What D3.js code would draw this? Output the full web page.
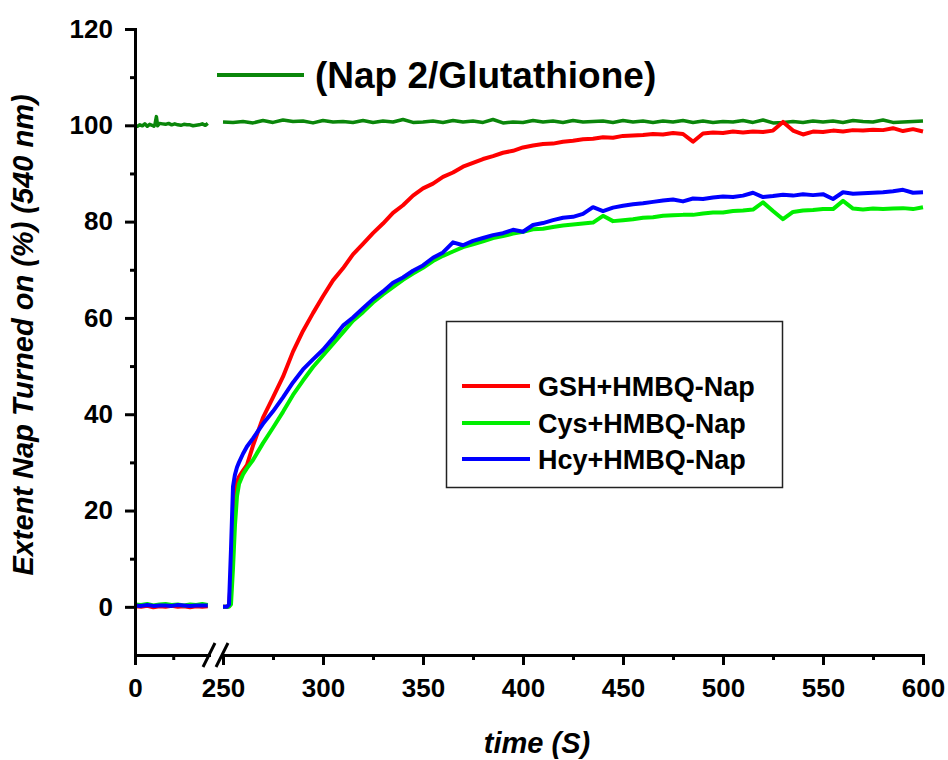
<!DOCTYPE html>
<html>
<head>
<meta charset="utf-8">
<script src="https://cdn.jsdelivr.net/npm/d3@7"></script>
<style>
  html, body { margin: 0; padding: 0; background: #fff; }
  svg { display: block; font-family: "Liberation Sans", Arial, Helvetica, sans-serif; }
</style>
</head>
<body>
<svg id="chart" width="948" height="760"></svg>
<script>
// ---- data ----------------------------------------------------------------
// baseline segment (before the axis break), shared by the three thiol traces
const baseTime = [0, 20, 40, 60, 80, 100, 120, 140, 160, 180, 200, 220, 238];
const baseGSH  = [0.1, 0.0, 0.2, -0.1, 0.1, 0.0, 0.2, 0.0, 0.1, -0.1, 0.1, 0.0, 0.1];
const baseCys  = [0.5, 0.4, 0.6, 0.3, 0.5, 0.6, 0.4, 0.5, 0.3, 0.5, 0.4, 0.6, 0.4];
const baseHcy  = [0.3, 0.2, 0.4, 0.2, 0.3, 0.3, 0.2, 0.4, 0.3, 0.2, 0.3, 0.3, 0.3];

// kinetic segment (after the axis break)
const runTime = [250, 252, 253, 254, 255, 256, 257, 258, 260, 262, 265,
  270, 275, 280, 285, 290, 295, 300, 305, 310, 315, 320, 325, 330, 335, 340, 345, 350,
  355, 360, 365, 370, 375, 380, 385, 390, 395, 400, 405, 410, 415, 420, 425, 430, 435,
  440, 445, 450, 455, 460, 465, 470, 475, 480, 485, 490, 495, 500, 505, 510, 515, 520,
  525, 530, 535, 540, 545, 550, 555, 560, 565, 570, 575, 580, 585, 590, 595, 600];

const runGSH = [0, 0, 0.2, 6, 18, 24, 26, 27, 28.3, 29.5, 33.5,
  39.3, 43.5, 47.8, 53.0, 57.3, 61.0, 64.5, 67.8, 70.3, 73.2, 75.4, 77.6, 79.6, 81.8, 83.4, 85.4, 86.9,
  87.9, 89.3, 90.2, 91.4, 92.2, 93.0, 93.6, 94.3, 94.7, 95.4, 95.8, 96.1, 96.2, 96.6, 96.8, 97.1, 97.2,
  97.5, 97.4, 97.8, 97.9, 98.0, 98.2, 98.1, 98.4, 98.2, 96.6, 98.3, 98.5, 98.4, 98.7, 98.5, 98.7, 98.6,
  98.9, 100.7, 98.9, 98.1, 98.7, 98.6, 98.9, 98.7, 99.0, 98.9, 99.1, 99.0, 99.4, 98.8, 99.2, 98.7];

const runCys = [0, 0, 0, 0.5, 8, 17, 23, 25.5, 27.5, 28.8, 30.5,
  34.0, 37.2, 40.5, 44.0, 47.0, 49.8, 52.2, 54.6, 57.0, 59.4, 61.2, 63.2, 64.9, 66.4, 67.9, 69.2, 70.4,
  71.8, 72.9, 73.8, 74.7, 75.3, 75.9, 76.6, 77.0, 77.5, 77.9, 78.4, 78.5, 78.9, 79.2, 79.4, 79.6, 79.8,
  81.2, 80.1, 80.3, 80.5, 80.8, 80.9, 81.2, 81.3, 81.4, 81.4, 81.7, 81.9, 81.9, 82.2, 82.3, 82.5, 84.0,
  82.2, 80.5, 82.0, 82.3, 82.4, 82.6, 82.6, 84.3, 82.7, 82.5, 82.7, 82.6, 82.7, 82.8, 82.6, 83.0];

const runHcy = [0, 0, 0.5, 12, 25, 27.5, 29, 30, 31.8, 33.3, 35.0,
  38.0, 40.6, 43.5, 46.6, 49.3, 51.4, 53.4, 55.8, 58.4, 60.1, 62.0, 63.9, 65.5, 67.3, 68.4, 69.8, 70.9,
  72.5, 73.6, 75.7, 75.1, 76.0, 76.6, 77.2, 77.6, 78.3, 77.9, 79.3, 79.7, 80.3, 80.8, 81.0, 81.6, 83.0,
  82.2, 82.9, 83.3, 83.6, 83.8, 84.1, 84.4, 84.6, 84.2, 84.8, 84.7, 85.0, 85.2, 85.1, 85.4, 86.0, 85.1,
  85.3, 85.6, 85.4, 85.7, 85.5, 85.7, 84.7, 86.1, 85.8, 85.9, 86.0, 86.1, 86.3, 86.6, 86.0, 86.1];

// Nap 2 / glutathione reference trace
const napBaseTime = [0, 8, 16, 24, 32, 40, 48, 56, 62, 66, 70, 74, 80, 90, 100, 110, 120,
  130, 140, 150, 160, 170, 180, 190, 200, 210, 220, 230, 238];
const napBase = [99.7, 99.8, 100.1, 99.9, 100.3, 99.8, 100.2, 100.0, 99.8, 100.4, 101.8, 99.9, 100.4,
  100.3, 100.2, 100.4, 100.1, 100.3, 100.1, 100.0, 100.2, 100.1, 100.1, 99.9, 100.0, 100.1, 100.3, 100.0, 100.4];

const napRunTime = [250, 255, 260, 265, 270, 275, 280, 285, 290, 295, 300, 305, 310, 315, 320,
  325, 330, 335, 340, 345, 350, 355, 360, 365, 370, 375, 380, 385, 390, 395, 400, 405, 410,
  415, 420, 425, 430, 435, 440, 445, 450, 455, 460, 465, 470, 475, 480, 485, 490, 495, 500,
  505, 510, 515, 520, 525, 530, 535, 540, 545, 550, 555, 560, 565, 570, 575, 580, 585, 590, 595, 600];
const napRun = [100.7, 100.6, 100.8, 100.5, 101.0, 100.6, 101.1, 100.8, 100.9, 100.5, 101.0, 100.7,
  100.8, 100.6, 101.0, 100.6, 100.9, 100.7, 101.2, 100.6, 100.7, 100.9, 100.6, 101.0, 100.7, 100.9,
  100.6, 101.2, 100.5, 100.7, 100.6, 101.0, 100.7, 100.9, 100.6, 101.0, 100.7, 100.8, 100.9, 100.6,
  101.0, 100.7, 100.9, 100.6, 100.9, 100.7, 101.0, 100.6, 100.9, 100.6, 100.8, 100.7, 101.0, 100.6,
  101.1, 100.5, 100.6, 100.8, 100.6, 100.9, 100.7, 100.9, 100.6, 101.0, 100.8, 100.7, 101.1, 100.6,
  100.7, 100.8, 100.9];

const seriesNames  = ["GSH+HMBQ-Nap", "Cys+HMBQ-Nap", "Hcy+HMBQ-Nap"];
const seriesColors = ["#ff0000", "#00ee00", "#0000ff"];
const napLabel = "(Nap 2/Glutathione)";
const napColor = "#0a860a";

const yMajor = [0, 20, 40, 60, 80, 100, 120];
const yMinor = [10, 30, 50, 70, 90, 110];
const xMajorRight = [250, 300, 350, 400, 450, 500, 550, 600];
const xMinorRight = [275, 325, 375, 425, 475, 525, 575];

// ---- scales ----------------------------------------------------------------
const svg = d3.select("#chart");
const font = "'Liberation Sans', Arial, Helvetica, sans-serif";

const y = d3.scaleLinear().domain([-10, 120]).range([655, 29]);
const xL = d3.scaleLinear().domain([0, 242]).range([135, 209]);   // before the break
const xR = d3.scaleLinear().domain([250, 600]).range([223, 923]); // after the break

// ---- traces ----------------------------------------------------------------
function drawTrace(scale, times, values, color, width) {
  const pts = times.map((t, i) => [t, values[i]]);
  svg.append("path")
    .datum(pts)
    .attr("fill", "none")
    .attr("stroke", color)
    .attr("stroke-width", width)
    .attr("stroke-linejoin", "round")
    .attr("d", d3.line().x(d => scale(d[0])).y(d => y(d[1])));
}

drawTrace(xL, napBaseTime, napBase, napColor, 3.5);
drawTrace(xR, napRunTime, napRun, napColor, 3.5);

const baseSets = [baseGSH, baseCys, baseHcy];
const runSets = [runGSH, runCys, runHcy];
[0, 1, 2].forEach(i => {
  drawTrace(xL, baseTime, baseSets[i], seriesColors[i], 4);
  drawTrace(xR, runTime, runSets[i], seriesColors[i], 4);
});

// ---- axes -----------------------------------------------------------------
function styleAxis(g) {
  g.select(".domain").attr("stroke", "#000").attr("stroke-width", 3).attr("stroke-linecap", "square");
  g.selectAll(".tick line").attr("stroke", "#000").attr("stroke-width", 3);
  g.selectAll(".tick text")
    .attr("fill", "#000")
    .style("font-family", font)
    .style("font-size", "26px")
    .style("font-weight", "bold");
}

// y axis
svg.append("g").attr("transform", "translate(135,0)")
  .call(d3.axisLeft(y).tickValues(yMinor).tickSize(5).tickSizeOuter(0).tickFormat(""))
  .call(styleAxis);
svg.append("g").attr("transform", "translate(135,0)")
  .call(d3.axisLeft(y).tickValues(yMajor).tickSize(10).tickSizeOuter(0).tickPadding(12).tickFormat(d3.format("d")))
  .call(styleAxis);

// x axis, left piece
svg.append("g").attr("transform", "translate(0,655)")
  .call(d3.axisBottom(xL).tickValues([125]).tickSize(5).tickSizeOuter(0).tickFormat(""))
  .call(styleAxis);
svg.append("g").attr("transform", "translate(0,655)")
  .call(d3.axisBottom(xL).tickValues([0]).tickSize(10).tickSizeOuter(0).tickPadding(14).tickFormat(d3.format("d")))
  .call(styleAxis);

// x axis, right piece
svg.append("g").attr("transform", "translate(0,655)")
  .call(d3.axisBottom(xR).tickValues(xMinorRight).tickSize(5).tickSizeOuter(0).tickFormat(""))
  .call(styleAxis);
svg.append("g").attr("transform", "translate(0,655)")
  .call(d3.axisBottom(xR).tickValues(xMajorRight).tickSize(10).tickSizeOuter(0).tickPadding(14).tickFormat(d3.format("d")))
  .call(styleAxis);

// break marks
[xL.range()[1], xR.range()[0] - 1].forEach(cx => {
  svg.append("line")
    .attr("x1", cx - 6).attr("y1", 667)
    .attr("x2", cx + 6).attr("y2", 643)
    .attr("stroke", "#000").attr("stroke-width", 3);
});

// axis titles
svg.append("text")
  .attr("transform", "translate(33,335) rotate(-90)")
  .attr("text-anchor", "middle")
  .style("font-family", font).style("font-size", "29px")
  .style("font-weight", "bold").style("font-style", "italic")
  .text("Extent Nap Turned on (%) (540 nm)");

svg.append("text")
  .attr("x", 537).attr("y", 753)
  .attr("text-anchor", "middle")
  .style("font-family", font).style("font-size", "29px")
  .style("font-weight", "bold").style("font-style", "italic")
  .text("time (S)");

// ---- legends ----------------------------------------------------------------
svg.append("line")
  .attr("x1", 217).attr("x2", 304).attr("y1", 75).attr("y2", 75)
  .attr("stroke", napColor).attr("stroke-width", 4);
svg.append("text")
  .attr("x", 315).attr("y", 88)
  .style("font-family", font).style("font-size", "37px").style("font-weight", "bold")
  .text(napLabel);

svg.append("rect")
  .attr("x", 446.5).attr("y", 321.5).attr("width", 336).attr("height", 166)
  .attr("fill", "none").attr("stroke", "#222").attr("stroke-width", 1.5);

const legendRows = [386, 423, 459];
seriesNames.forEach((name, i) => {
  svg.append("line")
    .attr("x1", 462).attr("x2", 530)
    .attr("y1", legendRows[i]).attr("y2", legendRows[i])
    .attr("stroke", seriesColors[i]).attr("stroke-width", 4);
  svg.append("text")
    .attr("x", 538).attr("y", legendRows[i] + 10)
    .style("font-family", font).style("font-size", "27px").style("font-weight", "bold")
    .text(name);
});
</script>
</body>
</html>
